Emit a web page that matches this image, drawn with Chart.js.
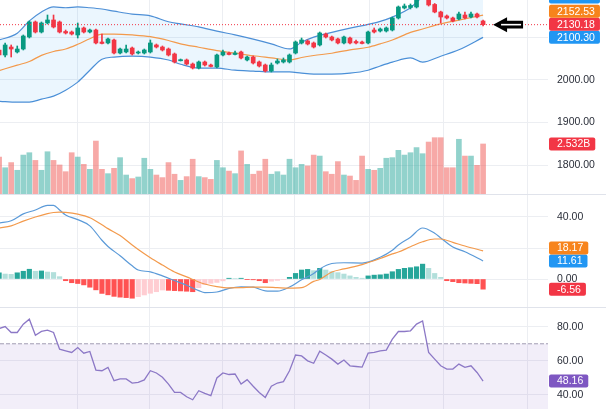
<!DOCTYPE html>
<html>
<head>
<meta charset="utf-8">
<script src="https://cdn.jsdelivr.net/npm/chart.js@4.4.1/dist/chart.umd.min.js"></script>
<style>
  html, body { margin: 0; padding: 0; background: #fff; }
  #wrap { position: relative; width: 606px; height: 409px; overflow: hidden; background: #fff; }
  .pane { position: absolute; left: 0; width: 606px; }
  .sep { position: absolute; left: 0; width: 606px; height: 1px; background: #e0e3eb; }
</style>
</head>
<body>
<div id="wrap">
  <div class="pane" style="top:0"><canvas id="priceChart" width="606" height="194"></canvas></div>
  <div class="sep" style="top:194px"></div>
  <div class="pane" style="top:195px"><canvas id="macdChart" width="606" height="112"></canvas></div>
  <div class="sep" style="top:307px"></div>
  <div class="pane" style="top:308px"><canvas id="rsiChart" width="606" height="101"></canvas></div>
</div>
<script>
// ---- candles (one per session) ----
const opens = [2070.6, 2058.8, 2077.6, 2065.9, 2072.9, 2101.2, 2136.5, 2112.9, 2134.1, 2141.2,
  2136.5, 2114.1, 2112.9, 2105.9, 2122.4, 2112.9, 2117.6, 2089.4, 2087.1, 2094.1,
  2063.5, 2065.9, 2075.3, 2063.5, 2063.5, 2065.9, 2082.4, 2077.6, 2072.9, 2061.2,
  2045.3, 2047.1, 2037.6, 2028.2, 2042.4, 2035.3, 2030.6, 2058.8, 2063.5, 2060.0,
  2065.9, 2047.1, 2054.1, 2042.4, 2035.3, 2021.2, 2040.0, 2042.4, 2042.4, 2063.5,
  2087.1, 2091.8, 2087.1, 2082.4, 2108.2, 2101.2, 2096.5, 2087.1, 2098.8, 2090.6,
  2089.4, 2087.1, 2117.6, 2115.3, 2115.3, 2117.6, 2145.9, 2169.4, 2170.6, 2171.8,
  2192.0, 2206.0, 2177.7, 2160.0, 2150.6, 2145.9, 2143.5, 2152.9, 2148.2, 2155.3,
  2138.8];
const highs = [2075.3, 2087.1, 2082.4, 2080.0, 2105.9, 2138.8, 2138.8, 2136.5, 2152.9, 2152.9,
  2138.8, 2117.6, 2115.3, 2134.1, 2124.7, 2120.0, 2120.0, 2108.2, 2098.8, 2096.5,
  2075.3, 2082.4, 2077.6, 2068.2, 2072.9, 2094.1, 2084.7, 2080.0, 2075.3, 2063.5,
  2049.4, 2049.4, 2040.0, 2044.7, 2044.7, 2037.6, 2061.2, 2070.6, 2065.9, 2068.2,
  2068.2, 2056.5, 2056.5, 2044.7, 2037.6, 2040.0, 2049.4, 2051.8, 2061.2, 2091.8,
  2098.8, 2094.1, 2089.4, 2112.9, 2110.6, 2103.5, 2098.8, 2103.5, 2101.2, 2094.1,
  2091.8, 2115.3, 2122.4, 2122.4, 2124.7, 2148.2, 2174.1, 2178.8, 2178.8, 2195.3,
  2212.0, 2210.0, 2180.0, 2162.0, 2153.0, 2148.0, 2160.0, 2160.0, 2160.0, 2157.6,
  2141.2];
const lows = [2054.1, 2054.1, 2054.1, 2063.5, 2070.6, 2098.8, 2110.6, 2110.6, 2131.8, 2122.4,
  2110.6, 2108.2, 2105.9, 2098.8, 2110.6, 2110.6, 2084.7, 2084.7, 2084.7, 2061.2,
  2061.2, 2063.5, 2058.8, 2061.2, 2061.2, 2063.5, 2075.3, 2068.2, 2056.5, 2040.0,
  2044.7, 2035.3, 2025.9, 2025.9, 2032.9, 2030.6, 2028.2, 2056.5, 2058.8, 2058.8,
  2049.4, 2044.7, 2037.6, 2030.6, 2018.8, 2018.8, 2037.6, 2040.0, 2040.0, 2061.2,
  2084.7, 2082.4, 2075.3, 2080.0, 2098.8, 2091.8, 2084.7, 2084.7, 2084.7, 2084.7,
  2084.7, 2084.7, 2110.6, 2112.9, 2112.9, 2115.3, 2143.5, 2167.1, 2167.1, 2169.4,
  2189.0, 2174.0, 2158.0, 2134.1, 2143.5, 2136.5, 2141.2, 2143.5, 2145.9, 2145.9,
  2127.1];
const closes = [2058.8, 2082.4, 2072.9, 2072.9, 2103.5, 2136.5, 2112.9, 2134.1, 2141.2, 2124.7,
  2112.9, 2110.6, 2108.2, 2122.4, 2112.9, 2117.6, 2087.1, 2085.9, 2096.5, 2063.5,
  2072.9, 2072.9, 2061.2, 2065.9, 2070.6, 2087.1, 2077.6, 2070.6, 2058.8, 2042.4,
  2047.8, 2037.6, 2028.2, 2042.4, 2035.3, 2031.8, 2058.8, 2065.9, 2060.0, 2063.5,
  2051.8, 2054.1, 2040.0, 2032.9, 2021.2, 2035.3, 2044.7, 2047.1, 2058.8, 2089.4,
  2094.1, 2084.7, 2077.6, 2110.6, 2101.2, 2094.1, 2087.1, 2101.2, 2087.1, 2087.1,
  2085.9, 2112.9, 2112.9, 2120.0, 2122.4, 2145.9, 2171.8, 2174.1, 2175.3, 2190.0,
  2206.0, 2176.5, 2160.0, 2148.2, 2145.9, 2138.8, 2155.3, 2145.9, 2155.3, 2148.2,
  2130.18];
// volume in billions
const volumes = [1.87, 1.33, 1.59, 1.20, 1.97, 2.09, 1.70, 1.20, 2.14, 1.70,
  1.47, 1.13, 2.09, 1.87, 1.50, 1.25, 2.68, 1.25, 1.03, 1.30,
  1.84, 0.96, 0.78, 0.86, 1.81, 1.25, 0.96, 0.83, 1.59, 1.00,
  0.69, 0.88, 1.76, 0.88, 0.83, 0.74, 1.70, 1.33, 1.16, 1.03,
  2.18, 1.50, 1.00, 1.16, 1.76, 1.00, 1.13, 0.96, 1.76, 1.33,
  1.50, 1.42, 1.97, 1.92, 1.13, 1.00, 1.64, 0.96, 0.91, 0.69,
  1.92, 1.25, 1.20, 1.30, 1.81, 1.84, 2.21, 1.97, 2.09, 2.35,
  2.04, 2.63, 2.85, 2.85, 1.33, 1.33, 2.77, 1.92, 1.92, 1.45,
  2.532];

// ---- bollinger bands, read at these candle positions ----
const bandIdx = [0, 3, 5, 7, 9, 11, 13, 15, 17, 19, 22, 25, 28, 30, 33, 36, 39, 42, 45, 48, 50, 52, 55, 58, 61, 63, 65, 68, 70, 73, 76, 80];
const bbUpper = [2094, 2110, 2139, 2160, 2172, 2170, 2172, 2170, 2167, 2162, 2155, 2151, 2137, 2132, 2125, 2115, 2106, 2096, 2085, 2073, 2089, 2101, 2112, 2122, 2131, 2138, 2148, 2170, 2195, 2209, 2213, 2204.76];
const bbBasis = [2022, 2035, 2043.5, 2058, 2067, 2073, 2084, 2097, 2108, 2108, 2106, 2102, 2093, 2085, 2077, 2069, 2063, 2057, 2052, 2047, 2053, 2057.6, 2063, 2071, 2077, 2085, 2094, 2112, 2120, 2132, 2141, 2152.53];
const bbLower = [1950, 1948, 1948, 1955, 1962, 1976, 1995, 2023, 2049, 2054, 2056, 2054, 2047, 2037, 2028, 2028, 2023, 2021, 2019, 2019, 2016, 2014, 2014, 2016, 2023, 2033, 2042, 2052, 2042, 2056, 2071, 2100.30];

// ---- MACD ----
const macdIdx = [0, 2, 4, 6, 8, 9, 10, 11, 13, 15, 17, 18, 20, 22, 23, 25, 27, 29, 31, 33, 34, 36, 38, 40, 42, 44, 46, 48, 50, 52, 53, 55, 57, 60, 63, 65, 66, 68, 70, 72, 73, 75, 77, 80];
const macdLine = [36.1, 37.6, 42.0, 44.5, 47.5, 47.5, 44.5, 41.3, 38.3, 34.3, 25.0, 21.0, 15.0, 8.5, 5.8, 4.6, 2.0, -1.0, -4.0, -7.5, -8.8, -8.4, -6.0, -5.0, -5.3, -7.6, -7.8, -5.2, -0.5, 3.5, 6.5, 10.0, 10.5, 10.3, 14.0, 18.5, 22.0, 27.0, 32.9, 29.5, 26.5, 20.6, 17.6, 11.61];
const signalLine = [32.9, 34.3, 37.3, 40.0, 42.2, 42.9, 43.2, 43.0, 41.8, 39.5, 35.0, 32.5, 28.0, 21.9, 19.0, 13.7, 9.0, 4.5, 1.4, -1.9, -3.2, -4.9, -5.7, -5.6, -5.2, -5.2, -5.6, -5.9, -5.6, -1.5, -0.3, 4.5, 6.5, 9.3, 13.2, 16.2, 17.4, 20.8, 24.0, 25.8, 25.8, 23.6, 21.3, 18.17];
const macdHist = [4.0, 3.2, 3.0, 4.0, 5.0, 6.3, 5.0, 5.2, 4.5, 4.2,
  1.5, -1.1, -2.4, -2.9, -3.8, -5.3, -7.0, -9.3, -10.2, -11.2,
  -11.7, -12.0, -12.4, -11.4, -10.3, -9.2, -8.2, -7.1, -7.3, -7.5,
  -7.7, -7.9, -8.2, -5.6, -3.6, -2.8, -2.2, -1.2, 0.5, 0.3,
  0.5, -0.2, -0.5, -1.1, -2.4, -1.4, -0.9, -0.3, 1.1, 3.6,
  5.8, 6.2, 5.4, 6.9, 5.8, 4.7, 4.1, 3.2, 2.0, 1.1,
  0.5, 2.0, 2.5, 2.7, 3.2, 4.7, 6.2, 6.9, 7.3, 7.9,
  9.6, 6.9, 3.6, 1.1, -1.1, -1.7, -2.4, -2.6, -2.8, -3.0,
  -6.56];

// ---- RSI ----
const rsi = [78.9, 80.1, 76.6, 76.6, 81.5, 84.4, 75.0, 77.2, 78.0, 76.6,
  66.8, 65.9, 64.9, 67.8, 64.5, 65.5, 54.6, 54.2, 56.2, 48.4,
  49.4, 49.4, 47.0, 47.4, 48.8, 54.2, 52.9, 50.4, 46.4, 41.5,
  41.5, 39.0, 37.2, 42.5, 40.9, 39.6, 50.0, 52.9, 52.0, 52.3,
  46.4, 49.0, 45.1, 41.5, 38.6, 45.1, 47.0, 47.8, 54.2, 63.4,
  62.9, 60.0, 58.6, 65.7, 63.4, 61.0, 58.1, 60.5, 57.1, 56.7,
  56.3, 64.5, 64.9, 65.9, 66.3, 72.7, 77.2, 77.2, 77.6, 81.5,
  83.4, 64.9, 61.0, 57.1, 55.2, 55.2, 58.1, 56.2, 57.1, 53.2,
  48.16];
const RSI_UPPER = 70, RSI_LOWER = 30;

// vertical time grid, in candle units
const gridIdx = [12.9, 24.9, 37.0, 48.9, 61.3, 73.4, 87.4];

const X_MIN = 0.15, X_MAX = 90.73;
const FONT = "'Liberation Sans', Arial, sans-serif";
const UP = '#089981', DOWN = '#f23645';
const GRID = '#eceef2';
const lastIdx = closes.length - 1;
const lastClose = closes[lastIdx];

function xAxis() {
  return {
    type: 'linear', min: X_MIN, max: X_MAX, offset: false,
    ticks: { display: false },
    grid: { color: GRID, drawTicks: false, offset: false },
    border: { display: false },
    afterBuildTicks: s => { s.ticks = gridIdx.map(v => ({ value: v })); },
    afterFit: s => { s.height = 0; s.paddingLeft = 0; s.paddingRight = 0; }
  };
}
function yAxis(min, max, step) {
  return {
    position: 'right', min: min, max: max,
    ticks: { stepSize: step, includeBounds: false, padding: 9, color: '#2a2e39',
      font: { family: FONT, size: 10.5 }, callback: v => v.toFixed(2) },
    grid: { color: GRID, drawTicks: false },
    border: { display: false },
    afterFit: s => { s.width = 58; s.paddingTop = 0; s.paddingBottom = 0; }
  };
}

// coloured value boxes on the price scale
const lastLabels = {
  id: 'lastLabels',
  afterDraw(chart, args, opts) {
    const ctx = chart.ctx, area = chart.chartArea, H = 13;
    ctx.save();
    ctx.font = '10.5px ' + FONT;
    const items = opts.items.map(it => Object.assign({}, it, { py: chart.scales[it.axis].getPixelForValue(it.value) }));
    items.sort((a, b) => b.py - a.py);
    for (let k = 1; k < items.length; k++) items[k].py = Math.min(items[k].py, items[k - 1].py - H);
    items.forEach(it => {
      const cy = it.minY !== undefined ? Math.max(it.py, it.minY) : it.py;
      const w = ctx.measureText(it.text).width;
      const x0 = area.right + 1;
      ctx.fillStyle = it.color;
      ctx.beginPath();
      ctx.roundRect(x0, cy - H / 2, (area.right + 9 + w + 5) - x0, H, 2);
      ctx.fill();
      ctx.fillStyle = '#fff';
      ctx.textBaseline = 'middle';
      ctx.textAlign = 'left';
      ctx.fillText(it.text, area.right + 9, cy + 0.5);
    });
    ctx.restore();
  }
};

// hand drawn arrow pointing at the last price
const arrowMark = {
  id: 'arrowMark',
  afterDraw(chart) {
    const ctx = chart.ctx;
    const tx = chart.scales.x.getPixelForValue(lastIdx + 1.65);
    const ty = chart.scales.y.getPixelForValue(lastClose);
    ctx.save();
    ctx.fillStyle = '#000';
    ctx.beginPath();
    ctx.moveTo(tx, ty);
    ctx.lineTo(tx + 14, ty - 7.5);
    ctx.lineTo(tx + 14, ty - 3.8);
    ctx.lineTo(tx + 30, ty - 3.8);
    ctx.lineTo(tx + 30, ty + 3.8);
    ctx.lineTo(tx + 14, ty + 3.8);
    ctx.lineTo(tx + 14, ty + 7.5);
    ctx.closePath();
    ctx.fill();
    ctx.strokeStyle = '#fff';
    ctx.lineWidth = 1.6;
    ctx.beginPath();
    ctx.moveTo(tx + 8, ty);
    ctx.lineTo(tx + 28, ty);
    ctx.stroke();
    ctx.restore();
  }
};

const candleX = closes.map((_, i) => i);
const candleColor = candleX.map(i => closes[i] >= opens[i] ? UP : DOWN);
const volColor = candleX.map(i => closes[i] >= opens[i] ? 'rgba(38,166,154,0.5)' : 'rgba(239,83,80,0.5)');
const BAND_BLUE = '#4d8fd6', BASIS = '#f39a4c';

new Chart(document.getElementById('priceChart'), {
  type: 'bar',
  data: {
    datasets: [
      { type: 'line', data: [{ x: X_MIN, y: lastClose }, { x: X_MAX, y: lastClose }],
        borderColor: '#f23645', borderWidth: 1, borderDash: [1, 2], pointRadius: 0, order: 0 },
      { data: candleX.map(i => ({ x: i, y: [opens[i], closes[i]] })), backgroundColor: candleColor,
        barThickness: 4, grouped: false, order: 1 },
      { data: candleX.map(i => ({ x: i, y: [lows[i], highs[i]] })), backgroundColor: candleColor,
        barThickness: 1, grouped: false, order: 2 },
      { type: 'line', data: bandIdx.map((x, k) => ({ x: x, y: bbBasis[k] })), borderColor: BASIS,
        borderWidth: 1.2, pointRadius: 0, cubicInterpolationMode: 'monotone', order: 3 },
      { type: 'line', data: bandIdx.map((x, k) => ({ x: x, y: bbUpper[k] })), borderColor: BAND_BLUE,
        borderWidth: 1.2, pointRadius: 0, cubicInterpolationMode: 'monotone', order: 4,
        fill: '+1', backgroundColor: 'rgba(33,150,243,0.09)' },
      { type: 'line', data: bandIdx.map((x, k) => ({ x: x, y: bbLower[k] })), borderColor: BAND_BLUE,
        borderWidth: 1.2, pointRadius: 0, cubicInterpolationMode: 'monotone', order: 4 },
      { data: candleX.map(i => ({ x: i, y: volumes[i] })), backgroundColor: volColor, yAxisID: 'yv',
        barThickness: 5, grouped: false, order: 6 }
    ]
  },
  options: {
    responsive: false, animation: false, events: [],
    layout: { padding: 0 },
    plugins: {
      legend: { display: false }, tooltip: { enabled: false },
      lastLabels: { items: [
        { axis: 'y', value: bbUpper[bbUpper.length - 1], text: bbUpper[bbUpper.length - 1].toFixed(2), color: '#2196f3', minY: -3 },
        { axis: 'y', value: bbBasis[bbBasis.length - 1], text: bbBasis[bbBasis.length - 1].toFixed(2), color: '#f7841c' },
        { axis: 'y', value: lastClose, text: lastClose.toFixed(2), color: '#f23645' },
        { axis: 'y', value: bbLower[bbLower.length - 1], text: bbLower[bbLower.length - 1].toFixed(2), color: '#2196f3' },
        { axis: 'yv', value: volumes[lastIdx], text: volumes[lastIdx].toFixed(3) + 'B', color: '#f23645' }
      ] }
    },
    scales: {
      x: xAxis(),
      y: yAxis(1731.8, 2188.2, 100),
      yv: { display: false, min: 0, max: 9.82 }
    }
  },
  plugins: [lastLabels, arrowMark]
});

const histColor = macdHist.map((v, i) => {
  const prev = i > 0 ? macdHist[i - 1] : v;
  if (v >= 0) return v >= prev ? '#26a69a' : '#b2dfdb';
  return v <= prev ? '#ff5252' : '#ffcdd2';
});

new Chart(document.getElementById('macdChart'), {
  type: 'bar',
  data: {
    datasets: [
      { type: 'line', data: macdIdx.map((x, k) => ({ x: x, y: signalLine[k] })), borderColor: BASIS,
        borderWidth: 1.2, pointRadius: 0, cubicInterpolationMode: 'monotone', order: 0 },
      { type: 'line', data: macdIdx.map((x, k) => ({ x: x, y: macdLine[k] })), borderColor: '#5b9ad8',
        borderWidth: 1.2, pointRadius: 0, cubicInterpolationMode: 'monotone', order: 1 },
      { data: candleX.map(i => ({ x: i, y: macdHist[i] })), backgroundColor: histColor,
        barThickness: 4.5, grouped: false, order: 2 }
    ]
  },
  options: {
    responsive: false, animation: false, events: [],
    plugins: {
      legend: { display: false }, tooltip: { enabled: false },
      lastLabels: { items: [
        { axis: 'y', value: signalLine[signalLine.length - 1], text: signalLine[signalLine.length - 1].toFixed(2), color: '#f7841c' },
        { axis: 'y', value: macdLine[macdLine.length - 1], text: macdLine[macdLine.length - 1].toFixed(2), color: '#2196f3' },
        { axis: 'y', value: macdHist[lastIdx], text: macdHist[lastIdx].toFixed(2), color: '#f23645' }
      ] }
    },
    scales: { x: xAxis(), y: yAxis(-18.06, 54.19, 20) }
  },
  plugins: [lastLabels]
});

new Chart(document.getElementById('rsiChart'), {
  type: 'line',
  data: {
    datasets: [
      { data: candleX.map(i => ({ x: i, y: rsi[i] })), borderColor: '#8c78c6', borderWidth: 1.3,
        pointRadius: 0, tension: 0, order: 0 },
      { data: [{ x: X_MIN, y: RSI_UPPER }, { x: X_MAX, y: RSI_UPPER }], borderColor: '#a39db3',
        borderWidth: 1, borderDash: [4, 2], pointRadius: 0, order: 1,
        fill: { value: RSI_LOWER }, backgroundColor: 'rgba(126,87,194,0.1)' }
    ]
  },
  options: {
    responsive: false, animation: false, events: [],
    plugins: {
      legend: { display: false }, tooltip: { enabled: false },
      lastLabels: { items: [
        { axis: 'y', value: rsi[lastIdx], text: rsi[lastIdx].toFixed(2), color: '#7e57c2' }
      ] }
    },
    scales: { x: xAxis(), y: yAxis(31.8, 90.95, 20) }
  },
  plugins: [lastLabels]
});
</script>
</body>
</html>
